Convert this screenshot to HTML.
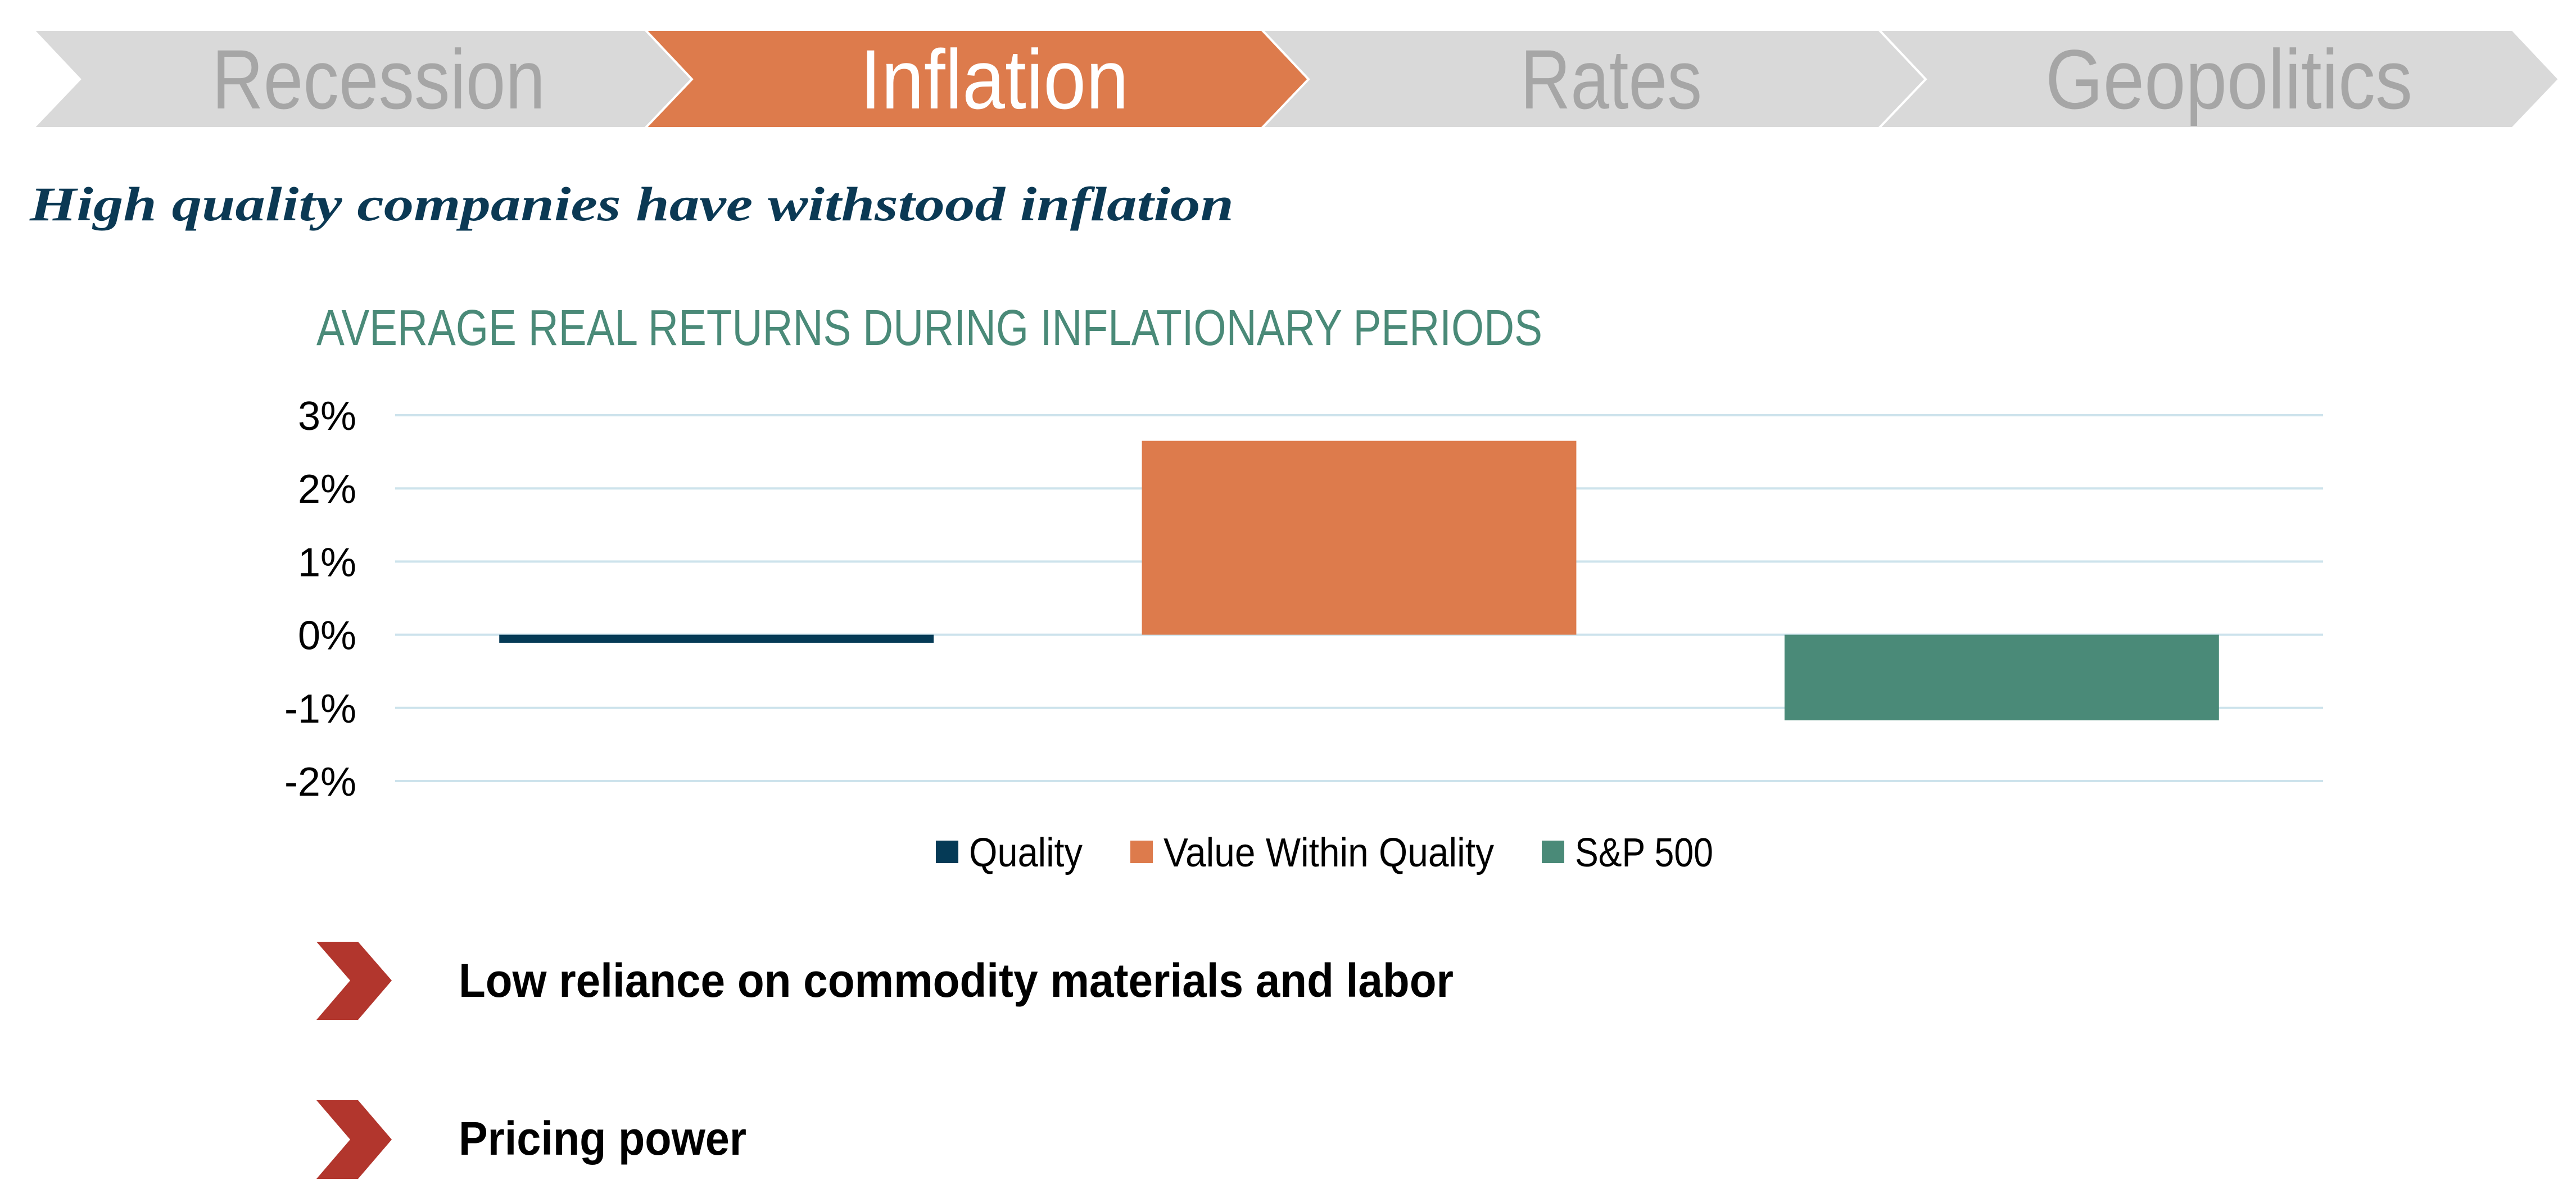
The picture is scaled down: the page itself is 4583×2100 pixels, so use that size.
<!DOCTYPE html>
<html><head><meta charset="utf-8"><style>
html,body{margin:0;padding:0;background:#fff;}
svg{display:block;}
text{font-family:"Liberation Sans Narrow","Liberation Sans",sans-serif;}
</style></head><body>
<svg id="page" width="4583" height="2100" viewBox="0 0 4583 2100" xmlns="http://www.w3.org/2000/svg">
<g>
  <g>
    <polygon points="59,53 1148,53 1231,141 1148,228 59,228 142,141" fill="#d9d9d9" stroke="#fff" stroke-width="4"/>
    <text x="377" y="193" font-size="150" fill="#a6a6a6" textLength="593" lengthAdjust="spacingAndGlyphs">Recession</text>
  </g>
  <g>
    <polygon points="1148,53 2245,53 2328,141 2245,228 1148,228 1231,141" fill="#dd7b4c" stroke="#fff" stroke-width="4"/>
    <text x="1530" y="193" font-size="150" fill="#ffffff" textLength="478" lengthAdjust="spacingAndGlyphs">Inflation</text>
  </g>
  <g>
    <polygon points="2245,53 3343,53 3426,141 3343,228 2245,228 2328,141" fill="#d9d9d9" stroke="#fff" stroke-width="4"/>
    <text x="2705" y="193" font-size="150" fill="#a6a6a6" textLength="323" lengthAdjust="spacingAndGlyphs">Rates</text>
  </g>
  <g>
    <polygon points="3343,53 4470,53 4553,141 4470,228 3343,228 3426,141" fill="#d9d9d9" stroke="#fff" stroke-width="4"/>
    <text x="3639" y="193" font-size="150" fill="#a6a6a6" textLength="653" lengthAdjust="spacingAndGlyphs">Geopolitics</text>
  </g>
</g>
<text x="53" y="392" font-size="86" font-weight="bold" font-style="italic" fill="#0b3954" style="font-family:'Liberation Serif',serif" textLength="2142" lengthAdjust="spacingAndGlyphs">High quality companies have withstood inflation</text>
<text x="563" y="614" font-size="90" fill="#4a8a78" textLength="2181" lengthAdjust="spacingAndGlyphs">AVERAGE REAL RETURNS DURING INFLATIONARY PERIODS</text>
<g id="chart"></g>
<g>
  <polygon points="563,1676 637,1676 697,1745 637,1815 563,1815 623,1745" fill="#b2362d"/>
  <text x="816" y="1774" font-size="84" font-weight="bold" fill="#000" textLength="1770" lengthAdjust="spacingAndGlyphs">Low reliance on commodity materials and labor</text>
</g>
<g>
  <polygon points="563,1958 637,1958 697,2028 637,2098 563,2098 623,2028" fill="#b2362d"/>
  <text x="816" y="2055" font-size="84" font-weight="bold" fill="#000" textLength="512" lengthAdjust="spacingAndGlyphs">Pricing power</text>
</g>
</svg>
<script>
const categories = ["Quality", "Value Within Quality", "S&P 500"];
const values = [-0.11, 2.65, -1.17];
const colors = ["#053a56", "#dd7b4c", "#4a8a78"];
const tickValues = [3, 2, 1, 0, -1, -2];
const tickLabels = ["3%", "2%", "1%", "0%", "-1%", "-2%"];
const legendTextWidths = [202, 588, 246];

const NS = "http://www.w3.org/2000/svg";
const chart = document.getElementById("chart");
const X0 = 703, X1 = 4133, yTop = 739, yBot = 1390, vMax = 3, vMin = -2;
const y = v => yTop + (vMax - v) * (yBot - yTop) / (vMax - vMin);
const band = (X1 - X0) / categories.length;
const xBand = i => X0 + i * band;
const barW = band * 0.676;

function mk(tag, attrs) {
  const e = document.createElementNS(NS, tag);
  for (const k in attrs) e.setAttribute(k, attrs[k]);
  chart.appendChild(e);
  return e;
}
tickValues.forEach((t, i) => {
  const g = mk("line", {x1: X0, x2: X1, y1: y(t), y2: y(t), stroke: "#cde3ec", "stroke-width": 4});
  
  
  const l = mk("text", {x: 634, y: y(t) + 26, "font-size": 72, fill: "#000", "text-anchor": "end"});
  l.textContent = tickLabels[i];
  
  
});
values.forEach((v, i) => {
  const x = xBand(i) + (band - barW) / 2;
  const r = mk("rect", {x: x, y: Math.min(y(v), y(0)), width: barW, height: Math.abs(y(v) - y(0)), fill: colors[i]});
  
  
});
let lx = 1665;
categories.forEach((c, i) => {
  const m = mk("rect", {x: lx, y: 1496, width: 40, height: 40, fill: colors[i]});
  
  
  const t = mk("text", {x: lx + 59, y: 1542, "font-size": 72, fill: "#000", textLength: legendTextWidths[i], lengthAdjust: "spacingAndGlyphs"});
  t.textContent = c;
  
  
  lx += 59 + legendTextWidths[i] + 85;
});
</script>
</body></html>
